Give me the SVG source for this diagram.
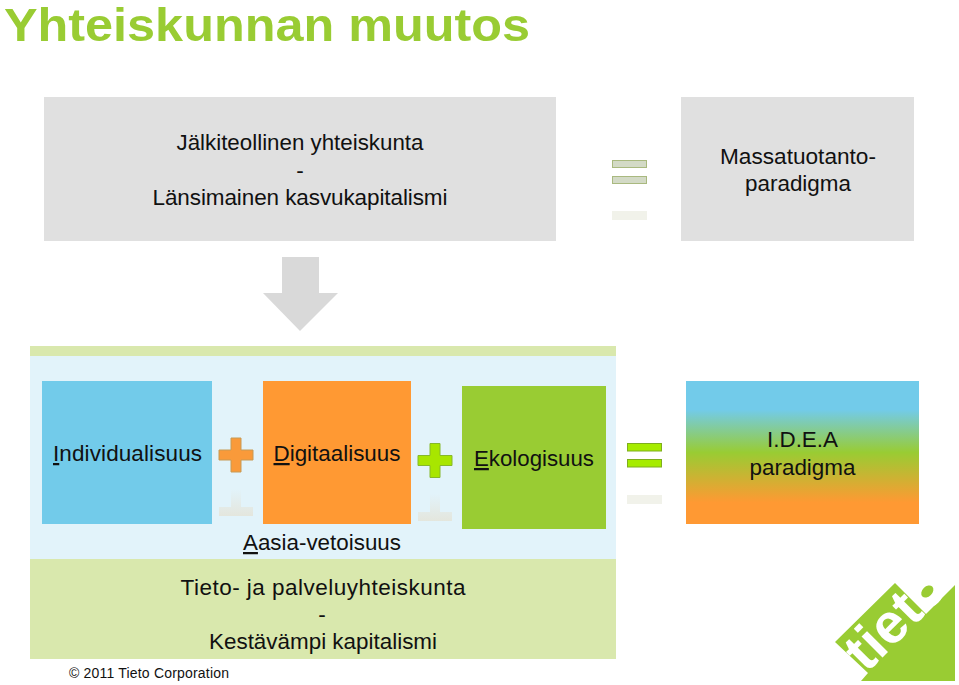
<svg xmlns="http://www.w3.org/2000/svg" width="959" height="685" viewBox="0 0 959 685">
<style>
text{font-family:"Liberation Sans",Arial,sans-serif;fill:#111;font-size:22.500px;text-anchor:middle}
.u{text-decoration:underline}
.eqg{fill:#d3dac6;stroke:#a9b97f;stroke-width:1}
.eqb{fill:#a6ec00;stroke:#7fae1e;stroke-width:1}
.ref{fill:#f1f2ea}
</style>
<defs>
<linearGradient id="idea" x1="0" y1="0" x2="0" y2="1">
<stop offset="0.2" stop-color="#72cbea"/>
<stop offset="0.5" stop-color="#99cc33"/>
<stop offset="0.85" stop-color="#ff9933"/>
</linearGradient>
<linearGradient id="fade" x1="0" y1="0" x2="0" y2="1">
<stop offset="0" stop-color="#e4e6dd" stop-opacity="0"/>
<stop offset="1" stop-color="#e4e6dd"/>
</linearGradient>
<path id="plus" d="M-5-17H5V-5H17V5H5V17H-5V5H-17V-5H-5Z"/>
<path id="plusr" d="M-5-17H5V1H17V10H-17V1H-5Z"/>
</defs>
<rect width="959" height="685" fill="#fff"/>
<text id="title" x="4" y="41" textLength="526" lengthAdjust="spacingAndGlyphs" style="font-size:46px;font-weight:bold;fill:#99cc33;text-anchor:start">Yhteiskunnan muutos</text>
<g id="node-jalkiteollinen">
<rect x="44" y="97" width="512" height="144" fill="#e0e0e0"/>
<text x="300" y="150" textLength="247" lengthAdjust="spacingAndGlyphs">Jälkiteollinen yhteiskunta</text>
<text x="300" y="178">-</text>
<text x="300" y="205" textLength="295">Länsimainen kasvukapitalismi</text>
</g>
<g id="node-equals-1">
<rect class="eqg" x="612.500" y="160.500" width="34" height="7"/>
<rect class="eqg" x="612.500" y="176.500" width="34" height="7"/>
<rect class="ref" x="612" y="211" width="35" height="9"/>
</g>
<g id="node-massatuotanto">
<rect x="681" y="97" width="233" height="144" fill="#e0e0e0"/>
<text x="798" y="164" textLength="156" lengthAdjust="spacingAndGlyphs">Massatuotanto-</text>
<text x="798" y="191" textLength="106" lengthAdjust="spacingAndGlyphs">paradigma</text>
</g>
<g id="connectors">
<polygon points="282,257 319,257 319,293 338,293 300,331 263,293 282,293" fill="#d9d9d9"/>
</g>
<g id="node-background">
<rect x="30" y="346" width="586" height="10" fill="#d9e8ad"/>
<rect x="30" y="356" width="586" height="203" fill="#e2f3fa"/>
<rect x="30" y="559" width="586" height="100" fill="#d9e8ad"/>
</g>
<g id="node-individualisuus">
<rect x="42" y="381" width="170" height="143" fill="#72cbea"/>
<text x="127.500" y="461" textLength="149"><tspan class="u">I</tspan>ndividualisuus</text>
</g>
<g id="node-plus-1">
<use href="#plus" x="236" y="455" fill="#f99a3a" stroke="#c79a55"/>
<use href="#plusr" x="236" y="506" fill="url(#fade)"/>
</g>
<g id="node-digitaalisuus">
<rect x="263" y="381" width="148" height="143" fill="#ff9933"/>
<text x="337" y="461" textLength="127" lengthAdjust="spacingAndGlyphs"><tspan class="u">D</tspan>igitaalisuus</text>
</g>
<g id="node-plus-2">
<use href="#plus" x="435" y="460.500" fill="#a8e600" stroke="#86b82a"/>
<use href="#plusr" x="435" y="511" fill="url(#fade)"/>
</g>
<g id="node-ekologisuus">
<rect x="462" y="386" width="144" height="143" fill="#99cc33"/>
<text x="534" y="466" textLength="120" lengthAdjust="spacingAndGlyphs"><tspan class="u">E</tspan>kologisuus</text>
</g>
<g id="node-equals-2">
<rect class="eqb" x="627.500" y="443.500" width="34" height="7.500"/>
<rect class="eqb" x="627.500" y="459.500" width="34" height="7.500"/>
<rect class="ref" x="627" y="495" width="35" height="9"/>
</g>
<g id="node-idea">
<rect x="686" y="381" width="233" height="143" fill="url(#idea)"/>
<text x="802.500" y="447" textLength="71" lengthAdjust="spacingAndGlyphs">I.D.E.A</text>
<text x="802.500" y="475" textLength="106" lengthAdjust="spacingAndGlyphs">paradigma</text>
</g>
<g id="node-aasia">
<text x="322" y="550" textLength="158" lengthAdjust="spacingAndGlyphs"><tspan class="u">A</tspan>asia-vetoisuus</text>
</g>
<g id="node-tieto-yhteiskunta">
<text x="323" y="595" textLength="285">Tieto- ja palveluyhteiskunta</text>
<text x="322" y="622">-</text>
<text x="323" y="649" textLength="228" lengthAdjust="spacingAndGlyphs">Kestävämpi kapitalismi</text>
</g>
<text id="copyright" x="69" y="678" textLength="160" style="font-size:14px;text-anchor:start">© 2011 Tieto Corporation</text>
<g id="logo">
<polygon points="835,642 895,583 926,614 955,585 955,681 861,681 868,673" fill="#99cc33"/>
<text x="0" y="0" transform="translate(866.500,673.500) rotate(-45)" style="font-size:56px;font-weight:bold;fill:#fff;text-anchor:start">tieto</text>
<ellipse cx="101" cy="-15" rx="7" ry="5" transform="translate(866.500,673.500) rotate(-45)" fill="#99cc33"/>
</g>
</svg>
